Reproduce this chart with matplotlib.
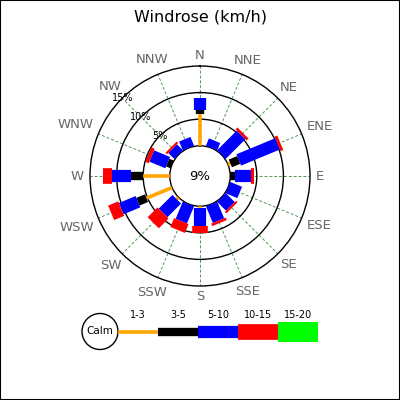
import numpy as np
import matplotlib
matplotlib.use('Agg')
import matplotlib.pyplot as plt
from matplotlib.patches import Circle, Rectangle
from matplotlib.transforms import ScaledTranslation

# ---------------- data ----------------
directions = ['N', 'NNE', 'NE', 'ENE', 'E', 'ESE', 'SE', 'SSE',
              'S', 'SSW', 'SW', 'WSW', 'W', 'WNW', 'NW', 'NNW']
range_labels = ['1-3', '3-5', '5-10', '10-15', '15-20']
range_colors = ['#ffa500', '#000000', '#0000ff', '#ff0000', '#00ff00']
# percentage of time per direction for each speed range (km/h)
r_1_3 = [5.9, 0, 0, 0.5, 0, 0, 0, 0, 0.3, 0, 0.5, 5.2, 5.0, 0, 0, 0]
r_3_5 = [0.9, 0, 0, 1.7, 0.9, 0, 0, 0, 0, 0, 0, 1.75, 2.2, 0.9, 0, 0]
r_5_10 = [2.1, 1.5, 5.25, 7.9, 3.1, 2.4, 2.4, 3.4, 3.5, 3.5, 3.65, 3.4, 3.75, 3.25, 1.6, 1.8]
r_10_15 = [0, 0, 0.5, 0.55, 0.45, 0, 0.4, 0.5, 1.25, 1.8, 2.6, 2.05, 1.55, 0.7, 0.4, 0]
r_15_20 = [0, 0, 0, 0, 0, 0, 0, 0, 0, 0, 0, 0, 0, 0, 0, 0]
calm_pct = 9
ring_values = [5, 10, 15]
title = 'Windrose (km/h)'

series = [r_1_3, r_3_5, r_5_10, r_10_15, r_15_20]
widths_pt = [2.6, 6.0, 8.8, 11.3, 14.4]

# ---------------- figure ----------------
fig = plt.figure(figsize=(4, 4), dpi=100)
fig.patch.set_facecolor('white')

ax = fig.add_axes([0.225, 0.285, 0.55, 0.55], projection='polar')
ax.set_theta_zero_location('N')
ax.set_theta_direction(-1)

theta = np.deg2rad(np.arange(len(directions)) * 360.0 / len(directions))

for i, th in enumerate(theta):
    start = 0.0
    for k, s in enumerate(series):
        v = s[i]
        if v > 0:
            ax.plot([th, th], [start, start + v], color=range_colors[k],
                    lw=widths_pt[k], solid_capstyle='butt', zorder=3)
        start += v

ax.set_ylim(0, ring_values[-1])
ax.set_rorigin(-5.68)
ax.set_axisbelow(True)

ax.set_xticks(theta)
ax.set_xticklabels([])
ax.xaxis.grid(True, color='#4f9a4f', linestyle=(0, (3, 2)), linewidth=0.7)
ax.set_yticks(ring_values[:-1])
ax.set_yticklabels([])
ax.yaxis.grid(True, color='black', linestyle='-', linewidth=1.0)
ax.tick_params(size=0)
ax.spines['polar'].set_linewidth(1.0)
ax.spines['inner'].set_linewidth(1.0)

# direction labels: nearest edge of each label sits on a fixed circle
renderer = fig.canvas.get_renderer()
for th, name in zip(theta, directions):
    t = ax.text(th, 16.1, name, ha='center', va='center', color='#666666',
                fontsize=9.5)
    bb = t.get_window_extent(renderer)
    off = bb.width / 2 * abs(np.sin(th)) + 4.5 * abs(np.cos(th))
    dx = off * np.sin(th) / fig.dpi
    dy = off * np.cos(th) / fig.dpi
    t.set_transform(ax.transData + ScaledTranslation(dx, dy, fig.dpi_scale_trans))

# ring labels along NW
for rv in ring_values:
    ax.text(np.deg2rad(315), rv, f'{rv}%', ha='center', va='center',
            fontsize=7, color='black', zorder=4)

ax.text(0.5, 0.5, f'{calm_pct}%', transform=ax.transAxes, ha='center',
        va='center', fontsize=9.5)

fig.text(0.5, 0.9575, title, ha='center', va='center', fontsize=11.5)

# ---------------- legend ----------------
lax = fig.add_axes([0, 0, 1, 1])
lax.set_xlim(0, 400)
lax.set_ylim(400, 0)
lax.axis('off')
lax.set_zorder(-1)
cx, cy, cr = 100, 331.5, 18
lax.add_patch(Circle((cx, cy), cr, facecolor='white', edgecolor='black', lw=1.0))
lax.text(cx, cy, 'Calm', ha='center', va='center', fontsize=7.5)
seg = 40
for k, (lab, col) in enumerate(zip(range_labels, range_colors)):
    x0 = cx + cr + k * seg
    lax.plot([x0, x0 + seg], [cy, cy], color=col, lw=widths_pt[k],
             solid_capstyle='butt')
    lax.text(x0 + seg / 2, 314.5, lab, ha='center', va='center', fontsize=7)

fig.add_artist(Rectangle((0, 0), 1, 1, transform=fig.transFigure, fill=False,
                         edgecolor='black', lw=1.5))

fig.savefig('out.png', dpi=100, facecolor='white')
